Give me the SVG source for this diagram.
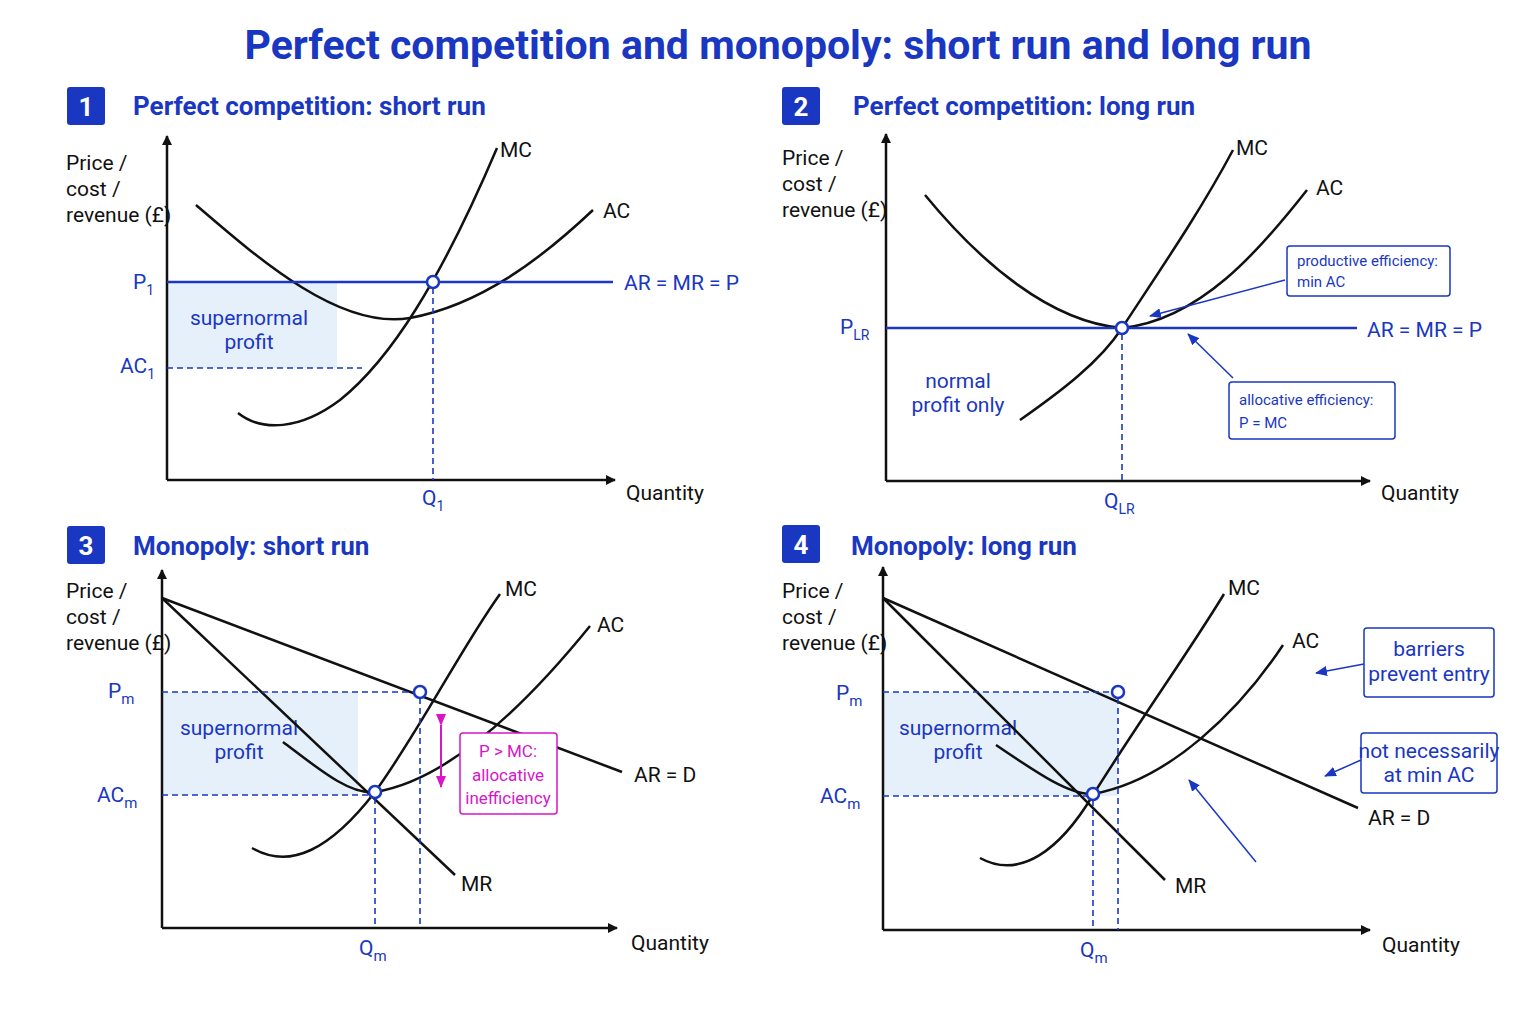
<svg xmlns="http://www.w3.org/2000/svg" width="1536" height="1024" viewBox="0 0 1536 1024">
<style>
text{font-family:"Roboto","Liberation Sans",sans-serif}
.t{font-size:41px;font-weight:bold;fill:#1a37c2}
.h{font-size:26px;font-weight:bold;fill:#1a37c2}
.bn{font-size:26px;font-weight:bold;fill:#fff}
.badge{fill:#1a37c2}
.ax{stroke:#111;stroke-width:2.5;fill:none}
.cv{stroke:#111;stroke-width:2.5;fill:none}
.bl{stroke:#1a37c2;stroke-width:2.5;fill:none}
.ds{stroke:#1a37c2;stroke-width:1.6;stroke-dasharray:6 4;fill:none}
.lb{font-size:21px;fill:#111}
.bt{font-size:21px;fill:#1a37c2}
.sm{font-size:15px;fill:#1a37c2}
.sh{fill:#e6f0fb}
.pt{fill:#fff;stroke:#1a37c2;stroke-width:2.5}
.box{fill:#fff;stroke:#1a37c2;stroke-width:1.5}
.mg{font-size:17px;fill:#d616c8}
</style>
<defs>
<marker id="ah" markerWidth="10" markerHeight="10" refX="9" refY="5" orient="auto" markerUnits="userSpaceOnUse"><path d="M0,0 L10,5 L0,10 z" fill="#111"/></marker>
<marker id="ab" markerWidth="12" markerHeight="10" refX="11" refY="5" orient="auto" markerUnits="userSpaceOnUse"><path d="M0,0 L12,5 L0,10 z" fill="#1a37c2"/></marker>
<marker id="am" markerWidth="12" markerHeight="10" refX="11" refY="5" orient="auto" markerUnits="userSpaceOnUse"><path d="M0,0 L12,5 L0,10 z" fill="#d616c8"/></marker>
</defs>
<rect width="1536" height="1024" fill="#fff"/>
<text class="t" x="778" y="59" text-anchor="middle">Perfect competition and monopoly: short run and long run</text>

<g id="panel1">
<rect class="badge" x="67" y="87" width="38" height="38" rx="3"/><text class="bn" x="86" y="116" text-anchor="middle">1</text>
<text class="h" x="133" y="115">Perfect competition: short run</text>
<rect class="sh" x="167" y="282" width="170" height="86"/>
<text class="bt" x="249" y="325" text-anchor="middle" font-size="18">supernormal</text>
<text class="bt" x="249" y="349" text-anchor="middle" font-size="18">profit</text>
<path class="ax" d="M167,480 L167,136" marker-end="url(#ah)"/>
<path class="ax" d="M167,480 L615,480" marker-end="url(#ah)"/>
<text class="lb" x="66" y="170">Price /</text><text class="lb" x="66" y="196">cost /</text><text class="lb" x="66" y="222">revenue (£)</text>
<path class="cv" d="M238,413 C262,432 300,430 340,400 C390,360 440,282 497,148"/>
<path class="cv" d="M196,205 C260,260 340,330 410,318 C480,305 540,260 593,210"/>
<path class="bl" d="M167,282 L613,282"/>
<path class="ds" d="M433,288 L433,480 M167,368 L362,368"/>
<circle class="pt" cx="433" cy="282" r="6"/>
<text class="lb" x="500" y="157">MC</text><text class="lb" x="603" y="218">AC</text>
<text class="bt" x="624" y="290">AR = MR = P</text>
<text class="bt" x="133" y="289">P<tspan font-size="14" dy="6">1</tspan></text>
<text class="bt" x="120" y="373">AC<tspan font-size="14" dy="6">1</tspan></text>
<text class="bt" x="422" y="505">Q<tspan font-size="14" dy="6">1</tspan></text>
<text class="lb" x="626" y="500">Quantity</text>
</g>

<g id="panel2">
<rect class="badge" x="782" y="87" width="38" height="38" rx="3"/><text class="bn" x="801" y="116" text-anchor="middle">2</text>
<text class="h" x="853" y="115">Perfect competition: long run</text>
<path class="ax" d="M886,481 L886,134" marker-end="url(#ah)"/>
<path class="ax" d="M886,481 L1370,481" marker-end="url(#ah)"/>
<text class="lb" x="782" y="165">Price /</text><text class="lb" x="782" y="191">cost /</text><text class="lb" x="782" y="217">revenue (£)</text>
<path class="cv" d="M1020,420 C1060,392 1100,362 1122,328 C1160,270 1200,212 1233,150"/>
<path class="cv" d="M925,195 C980,262 1050,322 1122,328 C1200,320 1260,250 1307,190"/>
<path class="bl" d="M886,328 L1357,328"/>
<path class="ds" d="M1122,334 L1122,481"/>
<circle class="pt" cx="1122" cy="328" r="6"/>
<text class="lb" x="1236" y="155">MC</text><text class="lb" x="1316" y="195">AC</text>
<text class="bt" x="1367" y="337">AR = MR = P</text>
<text class="bt" x="840" y="334">P<tspan font-size="14" dy="6">LR</tspan></text>
<text class="bt" x="1104" y="508">Q<tspan font-size="14" dy="6">LR</tspan></text>
<text class="bt" x="958" y="388" text-anchor="middle" font-size="18">normal</text>
<text class="bt" x="958" y="412" text-anchor="middle" font-size="18">profit only</text>
<rect class="box" x="1287" y="246" width="163" height="50" rx="3"/>
<text class="sm" x="1297" y="266">productive efficiency:</text><text class="sm" x="1297" y="287">min AC</text>
<path d="M1285,280 L1150,316" stroke="#1a37c2" stroke-width="1.5" marker-end="url(#ab)"/>
<rect class="box" x="1229" y="382" width="166" height="57" rx="3"/>
<text class="sm" x="1239" y="405" font-size="17">allocative efficiency:</text><text class="sm" x="1239" y="428" font-size="17">P = MC</text>
<path d="M1233,378 L1188,334" stroke="#1a37c2" stroke-width="1.5" marker-end="url(#ab)"/>
<text class="lb" x="1381" y="500">Quantity</text>
</g>

<g id="panel3">
<rect class="badge" x="67" y="526" width="38" height="38" rx="3"/><text class="bn" x="86" y="555" text-anchor="middle">3</text>
<text class="h" x="133" y="555">Monopoly: short run</text>
<rect class="sh" x="162" y="692" width="196" height="103"/>
<text class="bt" x="239" y="735" text-anchor="middle" font-size="18">supernormal</text>
<text class="bt" x="239" y="759" text-anchor="middle" font-size="18">profit</text>
<path class="ax" d="M162,928 L162,570" marker-end="url(#ah)"/>
<path class="ax" d="M162,928 L617,928" marker-end="url(#ah)"/>
<text class="lb" x="66" y="598">Price /</text><text class="lb" x="66" y="624">cost /</text><text class="lb" x="66" y="650">revenue (£)</text>
<path class="cv" d="M162,598 L622,772"/>
<path class="cv" d="M162,598 L455,875"/>
<path class="cv" d="M252,848 C290,870 330,850 375,792 C420,730 460,650 500,594"/>
<path class="cv" d="M283,742 C320,770 350,795 375,792 C450,780 530,700 590,626"/>
<path class="ds" d="M162,692 L420,692 M162,795 L375,795 M375,798 L375,928 M420,698 L420,928"/>
<circle class="pt" cx="420" cy="692" r="6"/>
<circle class="pt" cx="375" cy="792" r="6"/>
<path d="M441,725 L441,787" stroke="#d616c8" stroke-width="2" marker-start="url(#am)" marker-end="url(#am)"/>
<rect x="460" y="733" width="97" height="81" rx="3" fill="#fff" stroke="#d616c8" stroke-width="1.5"/>
<text class="mg" x="508" y="757" text-anchor="middle">P &gt; MC:</text>
<text class="mg" x="508" y="781" text-anchor="middle">allocative</text>
<text class="mg" x="508" y="804" text-anchor="middle">inefficiency</text>
<text class="lb" x="505" y="596">MC</text><text class="lb" x="597" y="632">AC</text>
<text class="lb" x="634" y="782">AR = D</text><text class="lb" x="461" y="891">MR</text>
<text class="bt" x="108" y="698">P<tspan font-size="15" dy="6">m</tspan></text>
<text class="bt" x="97" y="802">AC<tspan font-size="15" dy="6">m</tspan></text>
<text class="bt" x="359" y="955">Q<tspan font-size="15" dy="6">m</tspan></text>
<text class="lb" x="631" y="950">Quantity</text>
</g>

<g id="panel4">
<rect class="badge" x="782" y="525" width="38" height="38" rx="3"/><text class="bn" x="801" y="554" text-anchor="middle">4</text>
<text class="h" x="851" y="555">Monopoly: long run</text>
<rect class="sh" x="883" y="692" width="235" height="104"/>
<text class="bt" x="958" y="735" text-anchor="middle" font-size="18">supernormal</text>
<text class="bt" x="958" y="759" text-anchor="middle" font-size="18">profit</text>
<path class="ax" d="M883,930 L883,567" marker-end="url(#ah)"/>
<path class="ax" d="M883,930 L1370,930" marker-end="url(#ah)"/>
<text class="lb" x="782" y="598">Price /</text><text class="lb" x="782" y="624">cost /</text><text class="lb" x="782" y="650">revenue (£)</text>
<path class="cv" d="M883,598 L1358,808"/>
<path class="cv" d="M883,598 L1165,880"/>
<path class="cv" d="M980,858 C1020,880 1060,850 1093,795 C1140,720 1190,650 1224,594"/>
<path class="cv" d="M996,745 C1040,775 1070,795 1093,794 C1170,780 1240,710 1283,645"/>
<path class="ds" d="M883,692 L1118,692 M883,796 L1093,796 M1093,800 L1093,930 M1118,698 L1118,930"/>
<circle class="pt" cx="1118" cy="692" r="6"/>
<circle class="pt" cx="1093" cy="794" r="6"/>
<rect class="box" x="1364" y="628" width="130" height="69" rx="3"/>
<text class="bt" x="1429" y="656" text-anchor="middle" font-size="18">barriers</text>
<text class="bt" x="1429" y="681" text-anchor="middle" font-size="18">prevent entry</text>
<path d="M1364,664 L1316,673" stroke="#1a37c2" stroke-width="1.5" marker-end="url(#ab)"/>
<rect class="box" x="1361" y="733" width="136" height="60" rx="3"/>
<text class="bt" x="1429" y="758" text-anchor="middle" font-size="18">not necessarily</text>
<text class="bt" x="1429" y="782" text-anchor="middle" font-size="18">at min AC</text>
<path d="M1361,760 L1325,776" stroke="#1a37c2" stroke-width="1.5" marker-end="url(#ab)"/>
<path d="M1256,862 L1189,780" stroke="#1a37c2" stroke-width="1.5" marker-end="url(#ab)"/>
<text class="lb" x="1228" y="595">MC</text><text class="lb" x="1292" y="648">AC</text>
<text class="lb" x="1368" y="825">AR = D</text><text class="lb" x="1175" y="893">MR</text>
<text class="bt" x="836" y="700">P<tspan font-size="15" dy="6">m</tspan></text>
<text class="bt" x="820" y="803">AC<tspan font-size="15" dy="6">m</tspan></text>
<text class="bt" x="1080" y="957">Q<tspan font-size="15" dy="6">m</tspan></text>
<text class="lb" x="1382" y="952">Quantity</text>
</g>
</svg>
